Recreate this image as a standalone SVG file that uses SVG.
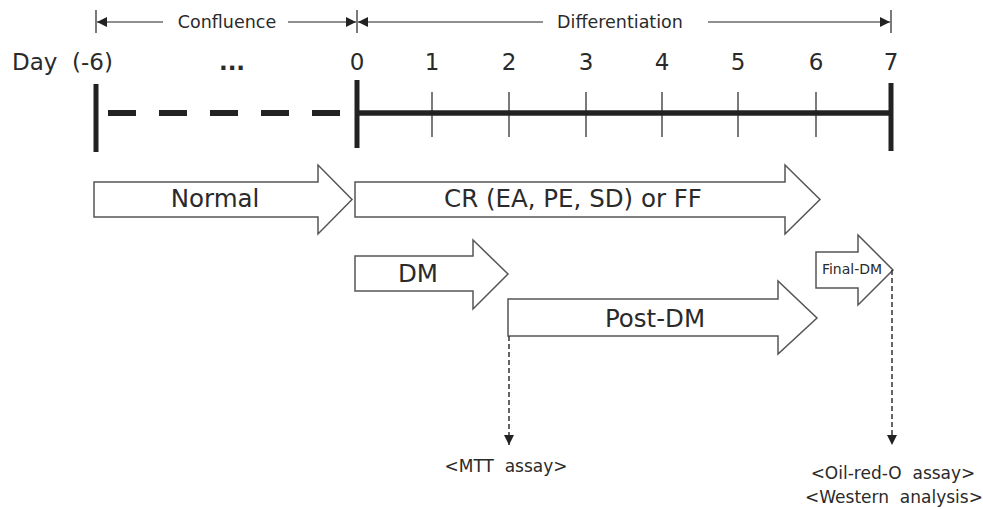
<svg xmlns="http://www.w3.org/2000/svg" width="983" height="509" viewBox="0 0 983 509">
<style>
text{font-family:"DejaVu Sans","Noto Sans","Liberation Sans",sans-serif;fill:#2a2a2a;white-space:pre}
.big{font-size:23px}
.lab{font-size:24.5px}
.mid{font-size:17.5px}
.sm{font-size:17px}
.blk{fill:#fff;stroke:#555;stroke-width:1.5}
.thin{stroke:#222;stroke-width:1.2;fill:none}
.dash{stroke:#333;stroke-width:1.5;stroke-dasharray:5 3;fill:none}
</style>
<defs>
<marker id="ah" viewBox="0 0 10 10" refX="10" refY="5" markerWidth="10" markerHeight="10" markerUnits="userSpaceOnUse" orient="auto">
<path d="M0,0L10,5L0,10z" fill="#222"/>
</marker>
</defs>
<g id="timeline">
<line x1="96" y1="10" x2="96" y2="33" class="thin"/>
<line x1="357" y1="10" x2="357" y2="33" class="thin"/>
<line x1="891" y1="10" x2="891" y2="33" class="thin"/>
<line x1="163" y1="22" x2="97" y2="22" class="thin" marker-end="url(#ah)"/>
<line x1="288" y1="22" x2="356" y2="22" class="thin" marker-end="url(#ah)"/>
<line x1="543" y1="22" x2="358" y2="22" class="thin" marker-end="url(#ah)"/>
<line x1="708" y1="22" x2="890" y2="22" class="thin" marker-end="url(#ah)"/>
<text x="227" y="28" class="mid" text-anchor="middle">Confluence</text>
<text x="620" y="28" class="mid" text-anchor="middle">Differentiation</text>
<text x="12" y="70" class="big">Day  (-6)</text>
<text x="232" y="70" class="big" text-anchor="middle" font-weight="bold">...</text>
<g class="big" text-anchor="middle">
<text x="357" y="70">0</text><text x="432" y="70">1</text><text x="509" y="70">2</text><text x="586" y="70">3</text><text x="662" y="70">4</text><text x="738" y="70">5</text><text x="816" y="70">6</text><text x="891" y="70">7</text>
</g>
<line x1="96" y1="84" x2="96" y2="152" stroke="#222" stroke-width="5"/>
<line x1="108" y1="113" x2="340" y2="113" stroke="#222" stroke-width="6" stroke-dasharray="28 23"/>
<line x1="357" y1="80" x2="357" y2="148" stroke="#222" stroke-width="5"/>
<line x1="891" y1="83" x2="891" y2="151" stroke="#222" stroke-width="5"/>
<line x1="357" y1="113" x2="891" y2="113" stroke="#222" stroke-width="5.5"/>
<g stroke="#222" stroke-width="1.2">
<line x1="432" y1="92" x2="432" y2="137"/><line x1="509" y1="92" x2="509" y2="137"/><line x1="586" y1="92" x2="586" y2="137"/><line x1="662" y1="92" x2="662" y2="137"/><line x1="738" y1="92" x2="738" y2="137"/><line x1="816" y1="92" x2="816" y2="137"/>
</g>
</g>
<g id="normal">
<path class="blk" d="M94,182H318V165L352,199.5L318,234V217H94Z"/>
<text x="215" y="207" class="lab" text-anchor="middle">Normal</text>
</g>
<g id="cr">
<path class="blk" d="M355,182H785V165L820,199.5L785,234V217H355Z"/>
<text x="573" y="207" class="lab" text-anchor="middle">CR (EA, PE, SD) or FF</text>
</g>
<g id="dm">
<path class="blk" d="M355,256H473V240L508,274L473,309V291H355Z"/>
<text x="418" y="282" class="lab" text-anchor="middle">DM</text>
</g>
<g id="postdm">
<path class="blk" d="M508,299H778V281L817,318L778,354V336H508Z"/>
<text x="655" y="327" class="lab" text-anchor="middle">Post-DM</text>
</g>
<g id="finaldm">
<path class="blk" d="M816,252H858V235L893,270L858,305V288H816Z"/>
<text x="852" y="274" font-size="14" text-anchor="middle">Final-DM</text>
</g>
<g id="connectors">
<line x1="509" y1="336" x2="509" y2="445" class="dash" marker-end="url(#ah)"/>
<line x1="892" y1="270" x2="892" y2="445" class="dash" marker-end="url(#ah)"/>
</g>
<g id="mtt">
<text x="506" y="472" class="sm" text-anchor="middle">&lt;MTT  assay&gt;</text>
</g>
<g id="oil">
<text x="893" y="479" class="sm" text-anchor="middle">&lt;Oil-red-O  assay&gt;</text>
<text x="894" y="503" class="sm" text-anchor="middle">&lt;Western  analysis&gt;</text>
</g>
</svg>
